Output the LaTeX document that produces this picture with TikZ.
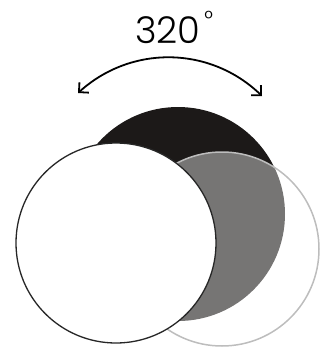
\documentclass[tikz,border=0pt]{standalone}
\usepackage{fontspec}
\IfFontExistsTF{Poppins Light}{\setmainfont{Poppins Light}}{\setmainfont{Poppins}}
\usetikzlibrary{arrows.meta}
\definecolor{discblack}{HTML}{1C1918}
\definecolor{rimgray}{HTML}{BDBDBD}
\tikzset{
  rotarrow/.style={line width=1.8bp, {Straight Barb[length=7bp,width=14bp,line width=1.8bp]}-{Straight Barb[length=7bp,width=14bp,line width=1.8bp]}},
}
\begin{document}
\begin{tikzpicture}[x=1bp,y=-1bp]
\useasboundingbox (0,0) rectangle (321,349);
% black disc
\fill[discblack] (178,214) circle[radius=107];
% back translucent disc
\fill[white, fill opacity=0.4] (222,249) circle[radius=97];
\draw[rimgray, line width=1.5bp] (222,249) circle[radius=97];
% front disc
\fill[white] (116,243) circle[radius=100];
\draw[black!85, line width=1.3bp] (116,243) circle[radius=100];
% label
\node[font=\fontsize{37}{40}\selectfont, anchor=base, inner sep=0] (lbl) at (174,43) {320\hspace{4bp}\raisebox{17bp}{\fontsize{22}{24}\selectfont°}};
% rotation arrow
\coordinate (L) at (78,93);
\coordinate (R) at (262,96);
\draw[rotarrow] (L) to[bend left=43] (R);
\end{tikzpicture}
\end{document}
